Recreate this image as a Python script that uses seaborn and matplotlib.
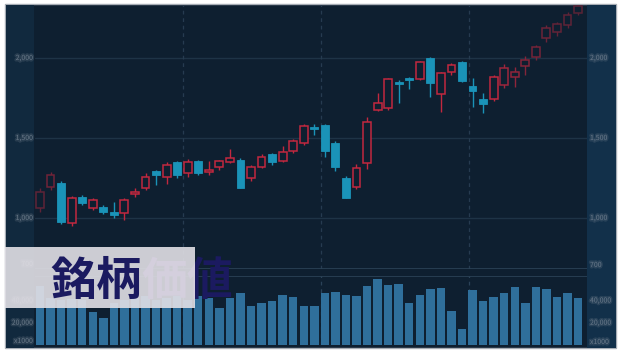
import numpy as np
import pandas as pd
import matplotlib
matplotlib.use("Agg")
import matplotlib.pyplot as plt
import seaborn as sns
from matplotlib.patches import Rectangle
from matplotlib.transforms import Bbox, TransformedBbox
import matplotlib.patheffects as pe

# ---------------- data ----------------
opens = [1062, 1194, 1219, 969, 1131, 1062, 1069, 1038, 1031, 1150,
         1188, 1294, 1256, 1350, 1281, 1356, 1288, 1319, 1350, 1362,
         1250, 1319, 1400, 1356, 1419, 1469, 1569, 1581, 1469, 1250,
         1194, 1344, 1675, 1688, 1850, 1875, 1869, 2000, 1775, 1912,
         1975, 1825, 1744, 1744, 1831, 1881, 1950, 2006, 2125, 2162,
         2206, 2281]
highs = [1188, 1288, 1231, 1138, 1144, 1125, 1081, 1100, 1125, 1188,
         1281, 1300, 1350, 1356, 1369, 1362, 1356, 1362, 1431, 1375,
         1331, 1400, 1406, 1450, 1494, 1588, 1588, 1588, 1481, 1262,
         1338, 1631, 1781, 1875, 1862, 1880, 1981, 2006, 1912, 1969,
         1981, 1875, 1781, 1894, 1962, 1944, 2012, 2081, 2206, 2225,
         2288, 2344]
lows = [1038, 1175, 962, 950, 1081, 1050, 1025, 1000, 988, 1131,
        1175, 1206, 1212, 1250, 1256, 1269, 1269, 1300, 1344, 1185,
        1231, 1312, 1331, 1350, 1406, 1456, 1519, 1381, 1294, 1122,
        1181, 1306, 1669, 1675, 1719, 1806, 1862, 1756, 1662, 1894,
        1850, 1694, 1656, 1731, 1812, 1819, 1894, 1988, 2100, 2138,
        2188, 2269]
closes = [1162, 1269, 975, 1125, 1094, 1112, 1038, 1019, 1112, 1162,
          1256, 1269, 1331, 1269, 1350, 1281, 1300, 1356, 1375, 1188,
          1319, 1381, 1350, 1412, 1481, 1575, 1556, 1419, 1319, 1125,
          1312, 1600, 1719, 1869, 1838, 1862, 1975, 1844, 1906, 1956,
          1856, 1794, 1712, 1881, 1938, 1912, 1988, 2069, 2188, 2212,
          2269, 2325]
volumes = [53100, 42300, 40500, 41400, 40500, 29700, 24300, 37800, 40500, 42300,
           44100, 40500, 42300, 44100, 40500, 44100, 42300, 33300, 42300, 46800,
           35100, 37800, 39600, 45000, 43200, 35100, 35100, 46800, 47700, 45000,
           44100, 53100, 59400, 54000, 54900, 37800, 45000, 50400, 51300, 30600,
           14400, 49500, 39600, 43200, 46800, 52200, 37800, 52200, 50400, 43200,
           46800, 42300]
price_ticks = [1000, 1500, 2000]
price_tick_labels = ["1,000", "1,500", "2,000"]
volume_ticks = [20000, 40000]
volume_tick_labels = ["20,000", "40,000"]
month_marks = [13.55, 26.6, 40.7]
title_head = "銘柄"
title_tail = "価値"

# ---------------- style ----------------
sns.set_theme(style="dark")
plt.rcParams['font.family'] = ['Noto Sans CJK JP', 'DejaVu Sans']

W, H = 621, 353
BG = "#0e1f30"
UP = "#c2283f"
DOWN = "#1a93b8"
VOL = "#2f6f9b"
NAVY = "#1b1a60"

fig = plt.figure(figsize=(W / 100, H / 100), dpi=100, facecolor="white")


def fx(px):
    return px / W


def fy(py):
    return 1 - py / H


def frect(x0, y0, x1, y1, **kw):
    r = Rectangle((fx(x0), fy(y1)), fx(x1 - x0), (y1 - y0) / H,
                  transform=fig.transFigure, **kw)
    fig.add_artist(r)
    return r


frect(5, 4, 616, 348, facecolor=BG, edgecolor="#a7adb5", lw=1.0, zorder=-5)
frect(5.5, 4.5, 34, 347.5, facecolor="#11293e", edgecolor="none", zorder=-4)
frect(587, 4.5, 615.5, 347.5, facecolor="#12304a", edgecolor="none", zorder=-4)

ax_p = fig.add_axes([fx(35), fy(269), fx(552), (269 - 5) / H])
ax_v = fig.add_axes([fx(35), fy(345), fx(552), (345 - 276) / H])
for ax in (ax_p, ax_v):
    ax.set_facecolor("none")
    for s in ax.spines.values():
        s.set_visible(False)

n = len(opens)
idx = np.arange(n)
xlim = ((35 - 40) / 10.55, (587 - 40) / 10.55)


def mix(c, f):
    a = np.array(matplotlib.colors.to_rgb(c))
    b = np.array(matplotlib.colors.to_rgb(BG))
    return tuple(a * f + b * (1 - f))


fade = np.ones(n)
fade[0], fade[1] = 0.45, 0.55
for k, f in zip(range(44, n), [0.8, 0.72, 0.65, 0.58, 0.52, 0.48, 0.45, 0.42]):
    fade[k] = f

# volume bars with seaborn
vol_df = pd.DataFrame({"i": idx, "volume": volumes})
sns.barplot(data=vol_df, x="i", y="volume", color=VOL, saturation=1,
            width=0.8, ax=ax_v, edgecolor="none", errorbar=None)
ax_v.set_xlim(*xlim)
ax_v.set_ylim(0, 62100)
ax_v.set_xlabel("")
ax_v.set_ylabel("")
ax_v.set_xticks([])
ax_v.set_yticks([])
for m in month_marks:
    ax_v.axvline(m, color="#2a4258", lw=0.9, ls=(0, (3, 3)), zorder=0)
ax_v.axhline(62100, color="#2c4357", lw=1.2)

# price panel
ax_p.set_xlim(*xlim)
ax_p.set_ylim(681.25, 2331.25)
ax_p.set_xticks([])
ax_p.set_yticks([])
for t in price_ticks:
    ax_p.axhline(t, color="#1e3346", lw=1.0, zorder=0)
for m in month_marks:
    ax_p.axvline(m, color="#263b50", lw=0.9, ls=(0, (3, 3)), zorder=0)
ax_p.axhline(681.25, color="#2c4357", lw=1.2)

for i in range(n):
    o, h, l, c = opens[i], highs[i], lows[i], closes[i]
    up = c >= o
    col = mix(UP if up else DOWN, fade[i])
    ax_p.vlines(i, l, h, color=col, lw=1.0, zorder=2)
    bottom = min(o, c)
    height = max(abs(c - o), 8)
    if up:
        ax_p.bar(i, height, bottom=bottom, width=0.74, facecolor=BG,
                 edgecolor=col, lw=1.1, zorder=3)
    else:
        ax_p.bar(i, height, bottom=bottom, width=0.74, facecolor=col,
                 edgecolor=col, lw=0.6, zorder=3)

# blurred-looking axis labels
lab_kw = dict(fontsize=5, color="#8592a0", alpha=0.55,
              path_effects=[pe.withStroke(linewidth=2.2, foreground="#6d7a88", alpha=0.25)])


def ypix(val):
    return 218 - (val - 1000) / 6.25


for t, s in zip(price_ticks, price_tick_labels):
    fig.text(fx(33), fy(ypix(t)), s, ha="right", va="center", **lab_kw)
    fig.text(fx(590), fy(ypix(t)), s, ha="left", va="center", **lab_kw)
for t, s in zip(volume_ticks, volume_tick_labels):
    yy = 345 - t / 900
    fig.text(fx(33), fy(yy), s, ha="right", va="center", **lab_kw)
    fig.text(fx(590), fy(yy), s, ha="left", va="center", **lab_kw)
fig.text(fx(33), fy(264), "700", ha="right", va="center", **lab_kw)
fig.text(fx(590), fy(265), "700", ha="left", va="center", **lab_kw)
fig.text(fx(33), fy(341), "x1000", ha="right", va="center", **lab_kw)
fig.text(fx(590), fy(342), "x1000", ha="left", va="center", **lab_kw)

# title label box
frect(5, 247, 195, 308, facecolor="#e2e0e6", edgecolor="none", alpha=0.9, zorder=5)

FS = 33
em = FS * 100 / 72
x0 = 50
yc = 277
t1 = fig.text(fx(x0), fy(yc), title_head, ha="left", va="center_baseline",
              fontsize=FS, fontweight="bold", color=NAVY, zorder=6)
x1 = x0 + 2 * em
t_light = fig.text(fx(x1), fy(yc), title_tail, ha="left", va="center_baseline",
                   fontsize=FS, fontweight="bold", color="#d4cfdd", zorder=6)
t_light.set_clip_box(TransformedBbox(Bbox([[0, 0], [fx(195), 1]]), fig.transFigure))
t_dark = fig.text(fx(x1), fy(yc), title_tail, ha="left", va="center_baseline",
                  fontsize=FS, fontweight="bold", color=NAVY, zorder=6)
t_dark.set_clip_box(TransformedBbox(Bbox([[fx(195), 0], [1, 1]]), fig.transFigure))

fig.savefig("out.png", dpi=100, facecolor="white")
